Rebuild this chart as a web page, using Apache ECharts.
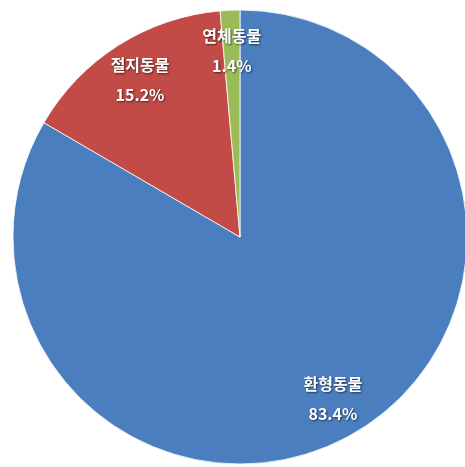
<!DOCTYPE html>
<html><head><meta charset="utf-8">
<script src="https://cdn.jsdelivr.net/npm/echarts@6/dist/echarts.min.js"></script>
<style>html,body{margin:0;padding:0;background:#fff}#c{width:465px;height:467px}</style>
</head><body><div id="c"></div>
<script>
const categories = ['환형동물', '절지동물', '연체동물'];
const values = [83.4, 15.2, 1.4];
const colors = ['#4A7EBF', '#C24B47', '#9BBB59'];

const data = categories.map((n, i) => ({ name: n, value: values[i] }));
const chart = echarts.init(document.getElementById('c'));
chart.setOption({
  backgroundColor: '#fff',
  animation: false,
  series: [
    {
      type: 'pie', center: [240, 237], radius: [0, 227], startAngle: 90, clockwise: true,
      data: data.map((d, i) => ({ ...d, itemStyle: { color: colors[i] } })),
      itemStyle: { borderColor: '#fff', borderWidth: 0.8 },
      label: { show: false }, labelLine: { show: false }, silent: true
    },
    {
      type: 'pie', center: [240, 237], radius: [140, 227], startAngle: 90, clockwise: true,
      data: data,
      itemStyle: { color: 'rgba(0,0,0,0)' },
      label: {
        show: true, position: 'inside',
        formatter: p => p.name + '\n' + p.value + '%',
        color: '#fff', fontFamily: 'Noto Sans CJK KR', fontWeight: 'bold', fontSize: 16,
        lineHeight: 30, textShadowColor: 'rgba(0,0,0,0.6)', textShadowBlur: 2,
        textShadowOffsetX: 1, textShadowOffsetY: 1
      },
      labelLine: { show: false }, silent: true
    }
  ]
});
</script></body></html>
